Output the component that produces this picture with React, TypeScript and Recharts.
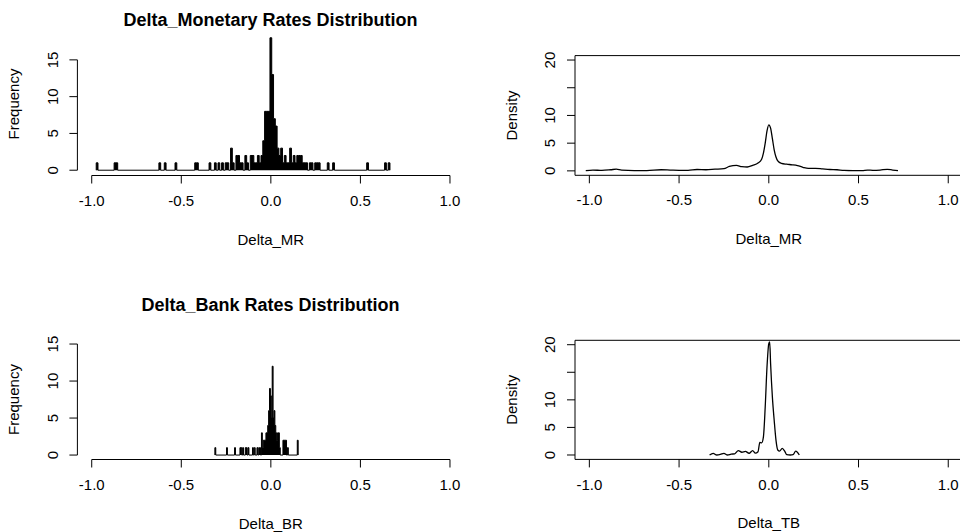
import React from 'react';
import { ComposedChart, Area, Line, XAxis, YAxis, ReferenceLine, ReferenceArea } from 'recharts';

const FONT = "'Liberation Sans', Arial, Helvetica, sans-serif";

// ---- Histogram of Delta_MR (bin width 0.01, bin centers, non-empty bins only) ----
const mrBinWidth = 0.01;
const mrBinCenters = [-0.97, -0.87, -0.86, -0.62, -0.59, -0.53, -0.42, -0.41, -0.34, -0.31, -0.29, -0.27, -0.25, -0.24, -0.22, -0.21, -0.19, -0.18, -0.17, -0.16, -0.14, -0.13, -0.11, -0.10, -0.09, -0.08, -0.07, -0.06, -0.05, -0.04, -0.03, -0.02, -0.01, 0.0, 0.01, 0.02, 0.03, 0.04, 0.05, 0.06, 0.07, 0.08, 0.09, 0.10, 0.11, 0.12, 0.13, 0.14, 0.15, 0.16, 0.17, 0.18, 0.19, 0.20, 0.22, 0.23, 0.25, 0.26, 0.27, 0.32, 0.35, 0.54, 0.64, 0.66];
const mrCounts = [1, 1, 1, 1, 1, 1, 1, 1, 1, 1, 1, 1, 1, 1, 3, 1, 2, 2, 1, 1, 2, 1, 2, 2, 1, 1, 2, 1, 2, 4, 8, 8, 8, 18, 13, 7, 6, 3, 2, 3, 1, 2, 1, 1, 3, 1, 2, 1, 2, 2, 2, 1, 1, 1, 1, 1, 1, 1, 1, 1, 1, 1, 1, 1];

// ---- Histogram of Delta_BR (bin width 0.005) ----
const brBinWidth = 0.005;
const brBinCenters = [-0.31, -0.245, -0.2, -0.17, -0.165, -0.155, -0.14, -0.135, -0.125, -0.1, -0.09, -0.075, -0.065, -0.06, -0.05, -0.045, -0.04, -0.035, -0.03, -0.025, -0.02, -0.015, -0.01, -0.005, 0.0, 0.005, 0.01, 0.015, 0.02, 0.025, 0.03, 0.035, 0.04, 0.045, 0.05, 0.07, 0.075, 0.08, 0.085, 0.095, 0.15];
const brCounts = [1, 1, 1, 1, 1, 1, 1, 1, 1, 1, 1, 1, 1, 1, 3, 1, 2, 2, 2, 3, 3, 4, 6, 9, 8, 5, 12, 5, 6, 4, 3, 2, 3, 3, 1, 2, 2, 2, 2, 1, 2];

// ---- Density of Delta_MR ----
const mrDensX = [-1.02, -0.98, -0.93, -0.88, -0.85, -0.82, -0.75, -0.68, -0.6, -0.55, -0.5, -0.45, -0.4, -0.35, -0.3, -0.25, -0.22, -0.18, -0.15, -0.12, -0.09, -0.06, -0.04, -0.03, -0.02, -0.01, 0.0, 0.01, 0.02, 0.03, 0.04, 0.05, 0.07, 0.1, 0.13, 0.16, 0.19, 0.22, 0.26, 0.3, 0.34, 0.38, 0.42, 0.47, 0.52, 0.55, 0.58, 0.62, 0.66, 0.69, 0.72];
const mrDensY = [0.05, 0.15, 0.08, 0.2, 0.3, 0.12, 0.05, 0.05, 0.2, 0.15, 0.1, 0.1, 0.25, 0.2, 0.3, 0.4, 0.8, 1.0, 0.75, 0.7, 1.0, 1.4, 2.1, 3.2, 5.0, 7.2, 8.3, 7.7, 5.8, 3.8, 2.5, 1.8, 1.35, 1.2, 1.1, 0.95, 0.65, 0.45, 0.45, 0.35, 0.25, 0.2, 0.08, 0.05, 0.05, 0.15, 0.1, 0.15, 0.28, 0.15, 0.03];

// ---- Density of Delta_TB ----
const tbDensX = [-0.33, -0.31, -0.29, -0.27, -0.25, -0.23, -0.21, -0.19, -0.17, -0.15, -0.13, -0.11, -0.09, -0.075, -0.06, -0.05, -0.04, -0.03, -0.02, -0.01, 0.0, 0.005, 0.01, 0.02, 0.03, 0.04, 0.05, 0.06, 0.075, 0.09, 0.1, 0.12, 0.135, 0.15, 0.17];
const tbDensY = [0.0, 0.3, 0.0, 0.1, 0.3, 0.0, 0.15, 0.2, 0.8, 0.5, 0.65, 0.3, 0.8, 0.35, 0.6, 2.3, 2.2, 3.3, 8.7, 16, 20.2, 20.5, 16.6, 10.5, 6.3, 2.7, 0.9, 0.7, 1.2, 0.6, 0.05, 0.0, 0.05, 0.7, 0.0];

// ---- Axis ticks / labels ----
const xTicks = [-1, -0.5, 0, 0.5, 1];
const histYTicks = [0, 5, 10, 15];
const densYTicks = [0, 5, 10, 15, 20];
const densHiddenTickLabels = [15];
const titles = ['Delta_Monetary Rates Distribution', 'Delta_Bank Rates Distribution'];

// R-style plot region: axis range extended by 4%
const X_DOMAIN: [number, number] = [-1.08, 1.08];

function buildSteps(centers: number[], counts: number[], w: number) {
  const pts: { x: number; y: number }[] = [];
  const adj = (a: number, b: number) => Math.abs(b - a - w) < w * 0.05;
  for (let i = 0; i < centers.length; i++) {
    const left = centers[i] - w / 2;
    const right = centers[i] + w / 2;
    if (i === 0 || !adj(centers[i - 1], centers[i])) pts.push({ x: left, y: 0 });
    pts.push({ x: left, y: counts[i] });
    if (i === centers.length - 1 || !adj(centers[i], centers[i + 1])) pts.push({ x: right, y: 0 });
  }
  return pts;
}

function zip(xs: number[], ys: number[]) {
  return xs.map((x, i) => ({ x, y: ys[i] }));
}

const makeYTick = (hidden: number[]) => (props: any) => {
  const { x, y, payload } = props;
  if (hidden.includes(payload.value)) return <g />;
  return (
    <text x={x} y={y} transform={`rotate(-90 ${x} ${y})`} textAnchor="middle" fontSize={15} fill="#000" fontFamily={FONT}>
      {String(payload.value)}
    </text>
  );
};

const AXW = 60; // YAxis width
const AXH = 60; // XAxis height

type PanelProps = {
  width: number;
  height: number;
  plotLeft: number;
  plotRight: number;
  plotTop: number;
  plotBottom: number;
  yDomain: [number, number];
  yTicks: number[];
  hiddenY: number[];
  xLabel: string;
  yLabel: string;
  kind: 'hist' | 'dens';
  data: { x: number; y: number }[];
};

function Panel(p: PanelProps) {
  const margin = {
    top: p.plotTop,
    left: p.plotLeft - AXW,
    right: p.width - p.plotRight,
    bottom: p.height - p.plotBottom - AXH,
  };
  const yTop = p.yTicks[p.yTicks.length - 1];
  return (
    <ComposedChart width={p.width} height={p.height} data={p.data} margin={margin}>
      <XAxis
        type="number"
        dataKey="x"
        domain={X_DOMAIN}
        allowDataOverflow
        ticks={xTicks}
        interval={0}
        tickFormatter={(v: number) => v.toFixed(1)}
        axisLine={false}
        tickLine={{ stroke: '#000' }}
        tickSize={8}
        tickMargin={11.5}
        height={AXH}
        tick={{ fill: '#000', fontSize: 15, fontFamily: FONT }}
        label={{ value: p.xLabel, position: 'insideBottom', offset: AXH - 69, fill: '#000', fontSize: 15, fontFamily: FONT }}
      />
      <YAxis
        type="number"
        domain={p.yDomain}
        allowDataOverflow
        ticks={p.yTicks}
        interval={0}
        axisLine={false}
        tickLine={{ stroke: '#000' }}
        tickSize={8}
        tickMargin={11.5}
        width={AXW}
        tick={makeYTick(p.hiddenY)}
        label={{ value: p.yLabel, angle: -90, position: 'insideLeft', offset: -3.4, fill: '#000', fontSize: 15, fontFamily: FONT, style: { textAnchor: 'middle' } }}
      />
      {p.kind === 'hist' ? (
        <>
          <ReferenceLine segment={[{ x: xTicks[0], y: p.yDomain[0] }, { x: xTicks[xTicks.length - 1], y: p.yDomain[0] }]} stroke="#000" strokeWidth={1} ifOverflow="visible" />
          <ReferenceLine segment={[{ x: X_DOMAIN[0], y: 0 }, { x: X_DOMAIN[0], y: yTop }]} stroke="#000" strokeWidth={1} ifOverflow="visible" />
          <Area type="stepAfter" dataKey="y" baseValue={0} stroke="#000" strokeWidth={1} fill="#000" fillOpacity={1} isAnimationActive={false} dot={false} activeDot={false} />
        </>
      ) : (
        <>
          <ReferenceArea x1={X_DOMAIN[0]} x2={X_DOMAIN[1]} y1={p.yDomain[0]} y2={p.yDomain[1]} fill="none" fillOpacity={0} stroke="#000" strokeWidth={1} ifOverflow="visible" />
          <Line type="monotone" dataKey="y" stroke="#000" strokeWidth={1.3} dot={false} activeDot={false} isAnimationActive={false} />
        </>
      )}
    </ComposedChart>
  );
}

const titleStyle = (top: number): React.CSSProperties => ({
  position: 'absolute',
  left: 0,
  width: 541,
  top,
  textAlign: 'center',
  fontFamily: FONT,
  fontWeight: 'bold',
  fontSize: 18,
  lineHeight: '18px',
  color: '#000',
  whiteSpace: 'nowrap',
});

export default function App() {
  const mrHist = buildSteps(mrBinCenters, mrCounts, mrBinWidth);
  const brHist = buildSteps(brBinCenters, brCounts, brBinWidth);
  const mrDens = zip(mrDensX, mrDensY);
  const tbDens = zip(tbDensX, tbDensY);
  return (
    <div style={{ position: 'absolute', left: 0, top: 0, width: 960, height: 532, overflow: 'hidden', background: '#fff', fontFamily: FONT }}>
      <div style={titleStyle(11.3)}>{titles[0]}</div>
      <div style={titleStyle(295.5)}>{titles[1]}</div>
      <div style={{ position: 'absolute', left: 0, top: 0 }}>
        <Panel width={480} height={266} plotLeft={77.4} plotRight={464.3} plotTop={32.5} plotBottom={175.5} yDomain={[-0.72, 18.72]} yTicks={histYTicks} hiddenY={[]} xLabel="Delta_MR" yLabel="Frequency" kind="hist" data={mrHist} />
      </div>
      <div style={{ position: 'absolute', left: 0, top: 266 }}>
        <Panel width={480} height={266} plotLeft={77.4} plotRight={464.3} plotTop={73.6} plotBottom={193.5} yDomain={[-0.6, 15.6]} yTicks={histYTicks} hiddenY={[]} xLabel="Delta_BR" yLabel="Frequency" kind="hist" data={brHist} />
      </div>
      <div style={{ position: 'absolute', left: 480, top: 0 }}>
        <Panel width={490} height={266} plotLeft={95} plotRight={482.6} plotTop={55.6} plotBottom={175.3} yDomain={[-0.8, 20.8]} yTicks={densYTicks} hiddenY={densHiddenTickLabels} xLabel="Delta_MR" yLabel="Density" kind="dens" data={mrDens} />
      </div>
      <div style={{ position: 'absolute', left: 480, top: 266 }}>
        <Panel width={490} height={266} plotLeft={95} plotRight={482.6} plotTop={74.3} plotBottom={193.4} yDomain={[-0.8, 20.8]} yTicks={densYTicks} hiddenY={densHiddenTickLabels} xLabel="Delta_TB" yLabel="Density" kind="dens" data={tbDens} />
      </div>
    </div>
  );
}
